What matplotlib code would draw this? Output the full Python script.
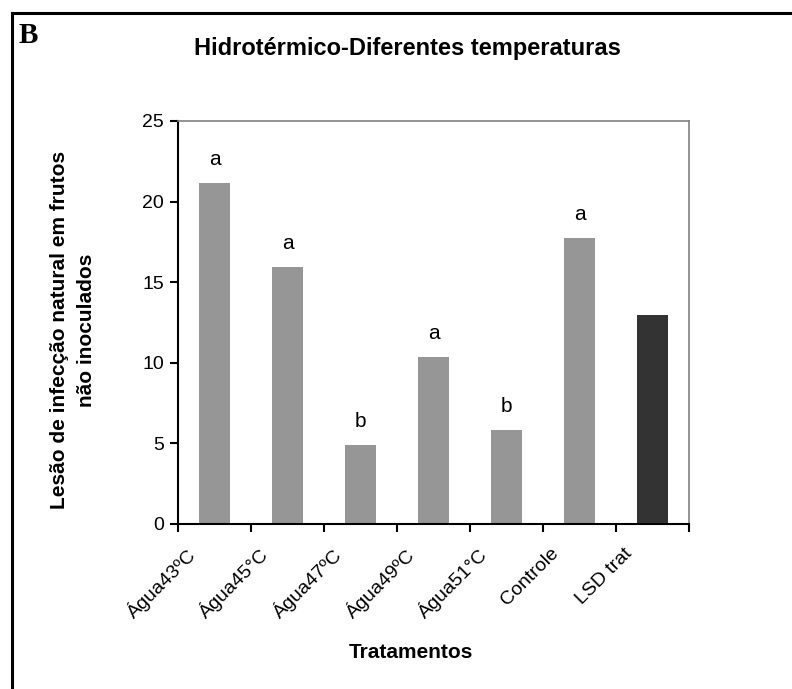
import matplotlib
matplotlib.use('Agg')
import matplotlib.pyplot as plt
from matplotlib.lines import Line2D

plt.rcParams['font.family'] = ['Liberation Sans', 'DejaVu Sans']

tratamentos = ['Água43ºC', 'Água45°C', 'Água47ºC', 'Água49ºC', 'Água51°C', 'Controle', 'LSD trat']
lesao = [21.15, 15.95, 4.9, 10.35, 5.85, 17.75, 12.97]
letras = ['a', 'a', 'b', 'a', 'b', 'a', '']
cores = ['#969696'] * 6 + ['#333333']

fig = plt.figure(figsize=(7.92, 6.89), dpi=100)
ax = fig.add_axes([0.2247, 0.2395, 0.6455, 0.5849])

x = range(len(tratamentos))
ax.bar(x, lesao, width=0.43, color=cores)
for i, (v, l) in enumerate(zip(lesao, letras)):
    if l:
        ax.text(i, v + 1.45, l, ha='center', va='center', fontsize=15)

ax.set_xlim(-0.5, len(tratamentos) - 0.5)
ax.set_ylim(0, 25)
ax.set_yticks([0, 5, 10, 15, 20, 25])
ax.set_xticks([i - 0.5 for i in range(len(tratamentos) + 1)])
ax.set_xticklabels([])
# rótulos deslocados para a esquerda, terminando junto às marcas
ax.set_xticks([i - 0.4 for i in x], minor=True)
ax.set_xticklabels(tratamentos, minor=True, rotation=45, ha='right',
                   rotation_mode='anchor', fontsize=14)
ax.tick_params(axis='x', which='minor', length=0, pad=15)
ax.tick_params(axis='x', which='major', length=6, width=1.5, direction='out')
ax.tick_params(axis='y', length=6, width=1.5, direction='out', labelsize=14, pad=4)

for s in ['left', 'bottom']:
    ax.spines[s].set_linewidth(1.5)
    ax.spines[s].set_color('black')
for s in ['top', 'right']:
    ax.spines[s].set_linewidth(1.2)
    ax.spines[s].set_color('#808080')

fig.text(407 / 792, 1 - 55 / 689, 'Hidrotérmico-Diferentes temperaturas',
         ha='center', va='baseline', fontsize=17, fontweight='bold')
fig.text(73 / 792, 1 - 330 / 689, 'Lesão de infecção natural em frutos\nnão inoculados',
         ha='center', va='center', rotation=90, fontsize=15, fontweight='bold',
         linespacing=1.5)
fig.text(411 / 792, 1 - 653 / 689, 'Tratamentos', ha='center', va='center',
         fontsize=15, fontweight='bold')
fig.text(19 / 792, 1 - 43 / 689, 'B', ha='left', va='baseline', fontsize=21,
         fontweight='bold', family='Liberation Serif')

# moldura do painel (somente esquerda e topo)
fig.add_artist(Line2D([11.5 / 792, 11.5 / 792], [0, 1 - 12.5 / 689], color='black',
                      linewidth=2.2, transform=fig.transFigure))
fig.add_artist(Line2D([11.5 / 792, 1], [1 - 12.5 / 689, 1 - 12.5 / 689], color='black',
                      linewidth=2.2, transform=fig.transFigure))

fig.savefig('out.png', dpi=100)
